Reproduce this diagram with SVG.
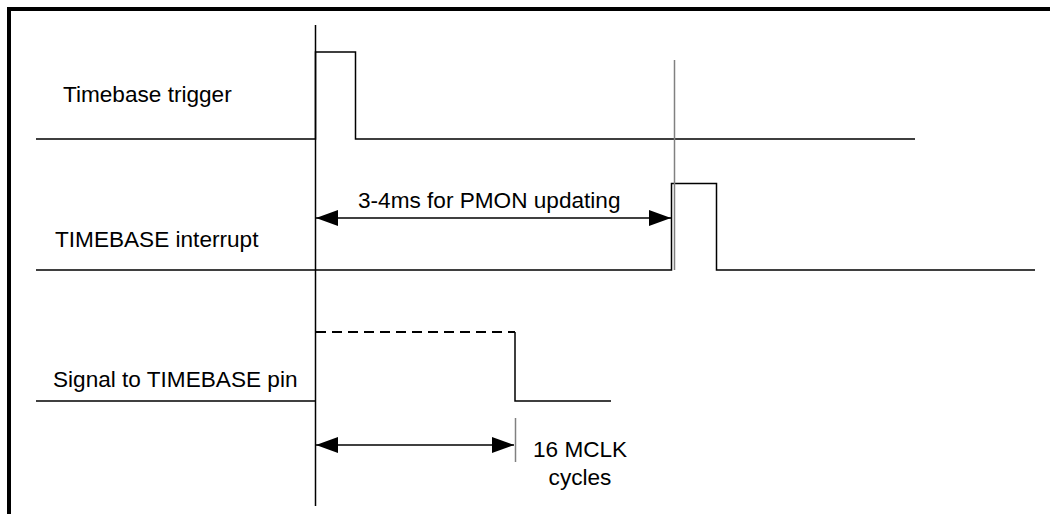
<svg xmlns="http://www.w3.org/2000/svg" width="1050" height="514" viewBox="0 0 1050 514">
<style>
.ln{fill:none;stroke:#000;stroke-width:1.5}
.gr{fill:none;stroke:#808080;stroke-width:1.5}
.tx{font-family:"Liberation Sans",Arial,sans-serif;font-size:22.6px;fill:#000}
</style>
<defs>
<marker id="ah" viewBox="0 0 22 16" refX="22" refY="8" markerWidth="22" markerHeight="16" markerUnits="userSpaceOnUse" orient="auto-start-reverse">
<path d="M0,0 L22,8 L0,16 Z" fill="#000"/>
</marker>
</defs>
<rect width="1050" height="514" fill="#fff"/>
<g id="frame">
<path d="M9,514 V9 H1050" fill="none" stroke="#000" stroke-width="4"/>
</g>
<g id="timebase-trigger">
<text class="tx" x="63" y="102">Timebase trigger</text>
<path class="ln" d="M36,139 H315.5 V52 H355.5 V139 H915"/>
</g>
<g id="timebase-interrupt">
<text class="tx" x="55" y="247">TIMEBASE interrupt</text>
<path class="ln" d="M36,270 H671.5 V183.5 H716.5 V270 H1035"/>
</g>
<g id="signal-pin">
<text class="tx" x="53" y="387">Signal to TIMEBASE pin</text>
<path class="ln" d="M36,401 H315"/>
<path d="M316,332 H515" fill="none" stroke="#000" stroke-width="2" stroke-dasharray="10,6"/>
<path class="ln" d="M515,332 V401 H611"/>
</g>
<g id="connectors">
<path class="ln" d="M315.5,25 V506"/>
<path class="gr" d="M674.5,60 V270"/>
<path class="ln" d="M316,218 H671" marker-start="url(#ah)" marker-end="url(#ah)"/>
<path class="ln" d="M316,445 H514" marker-start="url(#ah)" marker-end="url(#ah)"/>
<path class="gr" d="M515.5,418 V462"/>
</g>
<g id="labels">
<text class="tx" x="358" y="208">3-4ms for PMON updating</text>
<text class="tx" x="533" y="457">16 MCLK</text>
<text class="tx" x="580" y="485" text-anchor="middle">cycles</text>
</g>
</svg>
